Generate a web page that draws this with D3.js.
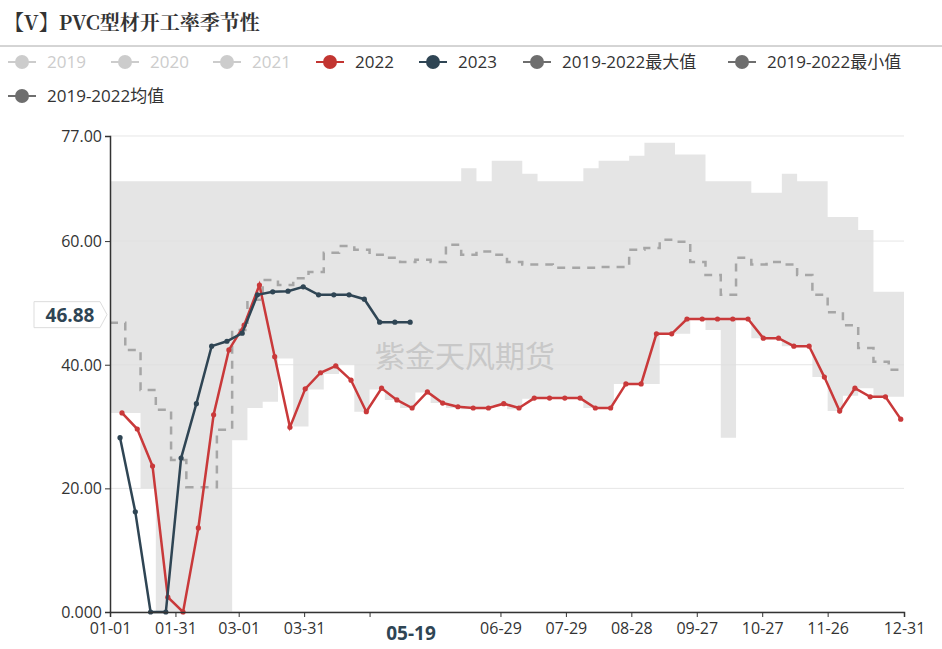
<!DOCTYPE html>
<html><head><meta charset="utf-8">
<script src="https://cdn.jsdelivr.net/npm/d3@7"></script>
<style>body{margin:0;background:#fff;font-family:"Open Sans","Noto Sans CJK SC",sans-serif;}</style>
</head><body><svg id="c" width="942" height="649"></svg>
<script>
// weekly points, first point about day 5 of the year
var series2022 = [32.2,29.6,23.6,2.4,0,13.6,31.9,42.4,46.4,52.9,41.3,29.9,36.1,38.7,39.8,37.5,32.4,36.2,34.3,33.0,35.6,33.8,33.2,33.0,33.0,33.7,33.0,34.6,34.6,34.6,34.6,33.0,33.0,36.9,36.9,45.0,45.0,47.4,47.4,47.4,47.4,47.4,44.3,44.3,43.0,43.0,38.0,32.5,36.2,34.8,34.8,31.2];
var series2023 = [28.2,16.2,0,0,24.9,33.7,43.0,43.8,45.1,51.3,51.8,51.9,52.6,51.3,51.3,51.3,50.6,46.88,46.88,46.88];
// weekly steps from 01-01
var maxVals = [69.7,69.7,69.7,69.7,69.7,69.7,69.7,69.7,69.7,69.7,69.7,69.7,69.7,69.7,69.7,69.7,69.7,69.7,69.7,69.7,69.7,69.7,69.7,71.8,69.7,73.0,73.0,70.9,69.7,69.7,69.7,71.8,73.0,73.0,73.8,75.9,75.9,74.0,74.0,69.7,69.7,69.7,67.8,67.8,70.9,69.7,69.7,63.9,63.9,61.8,51.8,51.8,53.9];
var minVals = [32.2,32.2,20,0,0,0,0,0,27.8,33,34,41,30,36,38.5,40,32.4,36,34.3,33,35.5,33.8,33,32.8,32.8,33.5,32.8,34.5,34.5,34.5,34.5,33,33,36.9,36.9,36.9,45,45,47.4,45.6,28.2,47.4,44.3,44.3,43,43,38,32.5,35,36.2,34.8,34.8,33.5];
var meanVals = [46.8,42.4,35.9,32.7,24.6,20.2,20.2,29.5,45.6,50.5,53.7,52.9,54,55,58.1,59.2,58.6,57.8,57.3,56.6,57,56.6,59.4,57.8,58.3,57.8,56.6,56.2,56.2,55.7,55.7,55.7,55.8,55.8,58.6,58.9,60.2,59.9,56.6,54.5,51.3,57.3,56.2,56.6,56.2,54.5,51.3,48.5,46.4,42.7,40.5,39.2,39.2];
var xTickDays = [0,30,59,89,119,149,179,209,239,269,299,329,364];
var xTickLabels = ["01-01","01-31","03-01","03-31","04-30","05-30","06-29","07-29","08-28","09-27","10-27","11-26","12-31"];
var yTicks = [0,20,40,60,77];
var legendNames = ["2019","2020","2021","2022","2023","2019-2022最大值","2019-2022最小值","2019-2022均值"];
var legendColors = ["#ccc","#ccc","#ccc","#c23531","#2f4554","#6e6e6e","#6e6e6e","#6e6e6e"];

var svg = d3.select("#c");
var x = d3.scaleLinear().domain([0,364]).range([110,904]);
var y = d3.scaleLinear().domain([0,77]).range([612,136]);

svg.append("text").attr("x",4).attr("y",30).attr("font-family","'Noto Serif CJK SC','Liberation Serif',serif")
  .attr("font-weight","bold").attr("font-size",20).attr("fill","#333").text("【V】PVC型材开工率季节性");
svg.append("line").attr("x1",0).attr("x2",942).attr("y1",46).attr("y2",46).attr("stroke","#aaa");

// legend
var lpos = [[22,62],[125,62],[227,62],[330,62],[433,62],[537,62],[742,62],[22,96]];
legendNames.forEach(function(n,i){
  var g = svg.append("g").attr("transform","translate("+lpos[i][0]+","+lpos[i][1]+")");
  g.append("line").attr("x1",-14).attr("x2",14).attr("stroke",legendColors[i]).attr("stroke-width",2);
  g.append("circle").attr("r",7).attr("fill",legendColors[i]);
  g.append("text").attr("x",25).attr("y",6).attr("font-size",17).attr("fill",i<3?"#ccc":"#333").text(n);
});

// band
var weekX = function(i){ return x(Math.min(i*7,364)); };
var band = maxVals.map(function(v,i){ return {i:i, hi:v, lo:minVals[i]}; });
band.push({i:53, hi:maxVals[52], lo:minVals[52]});
svg.append("path").datum(band).attr("fill","#e5e5e5")
  .attr("d", d3.area().curve(d3.curveStepAfter).x(function(d){return weekX(d.i);})
    .y0(function(d){return y(d.lo);}).y1(function(d){return y(d.hi);}));

// grid
svg.selectAll(".grid").data(yTicks).enter().append("line")
  .attr("x1",110).attr("x2",904).attr("y1",function(d){return y(d);}).attr("y2",function(d){return y(d);})
  .attr("stroke","#e0e0e0").attr("stroke-opacity",0.8);

svg.append("text").attr("x",465).attr("y",367).attr("text-anchor","middle").attr("font-size",30)
  .attr("fill","#c8c8c8").attr("font-family","'Noto Sans CJK SC',sans-serif").text("紫金天风期货");

// mean
var meanPts = meanVals.map(function(v,i){return {i:i,v:v};});
meanPts.push({i:53,v:meanVals[52]});
svg.append("path").datum(meanPts).attr("fill","none").attr("stroke","#a6a6a6").attr("stroke-width",2.5)
  .attr("stroke-dasharray","8,7")
  .attr("d", d3.line().curve(d3.curveStepAfter).x(function(d){return weekX(d.i);}).y(function(d){return y(d.v);}));

function drawSeries(vals, color, start){
  var pts = vals.map(function(v,i){return [x(start+i*7), y(v)];});
  svg.append("path").attr("d", d3.line()(pts)).attr("fill","none").attr("stroke",color).attr("stroke-width",2.5);
  svg.selectAll(null).data(pts).enter().append("circle").attr("cx",function(d){return d[0];})
    .attr("cy",function(d){return d[1];}).attr("r",2.6).attr("fill",color);
}
drawSeries(series2022, "#c9393a", 5.5);
drawSeries(series2023, "#2f4554", 4.6);

// axes
var ya = svg.append("g").attr("transform","translate(110,0)")
  .call(d3.axisLeft(y).tickValues(yTicks).tickSize(5).tickFormat(function(d){return d===0?"0.000":d3.format(".2f")(d);}));
var xa = svg.append("g").attr("transform","translate(0,612)")
  .call(d3.axisBottom(x).tickValues(xTickDays).tickSize(5).tickFormat(function(d,i){return xTickLabels[i];}));
[ya,xa].forEach(function(a){
  a.select(".domain").attr("stroke","#333").attr("stroke-width",1.5);
  a.selectAll(".tick line").attr("stroke","#333");
  a.selectAll("text").attr("font-size",16).attr("fill","#333").attr("font-family","'Open Sans',sans-serif");
});
ya.selectAll("text").attr("dy","0.35em");
xa.selectAll("text").attr("dy","0.9em");
xa.selectAll(".tick").filter(function(d){return d===149;}).remove();
xa.selectAll(".tick").filter(function(d){return d===119;}).select("text").attr("opacity",0);

// axis pointer labels
var px = x(138);
svg.append("rect").attr("x",px-30).attr("y",618).attr("width",60).attr("height",28).attr("fill","#fff");
svg.append("text").attr("x",px).attr("y",640).attr("text-anchor","middle").attr("font-size",19)
  .attr("font-weight","bold").attr("fill","#2f4554").text("05-19");
var py = y(48.1);
svg.append("path").attr("d","M34,"+(py-13)+"H100L107,"+py+"L100,"+(py+13)+"H34Z")
  .attr("fill","#fff").attr("stroke","#ddd");
svg.append("text").attr("x",70).attr("y",py+7).attr("text-anchor","middle").attr("font-size",19)
  .attr("font-weight","bold").attr("fill","#2f4554").text("46.88");
</script></body></html>
